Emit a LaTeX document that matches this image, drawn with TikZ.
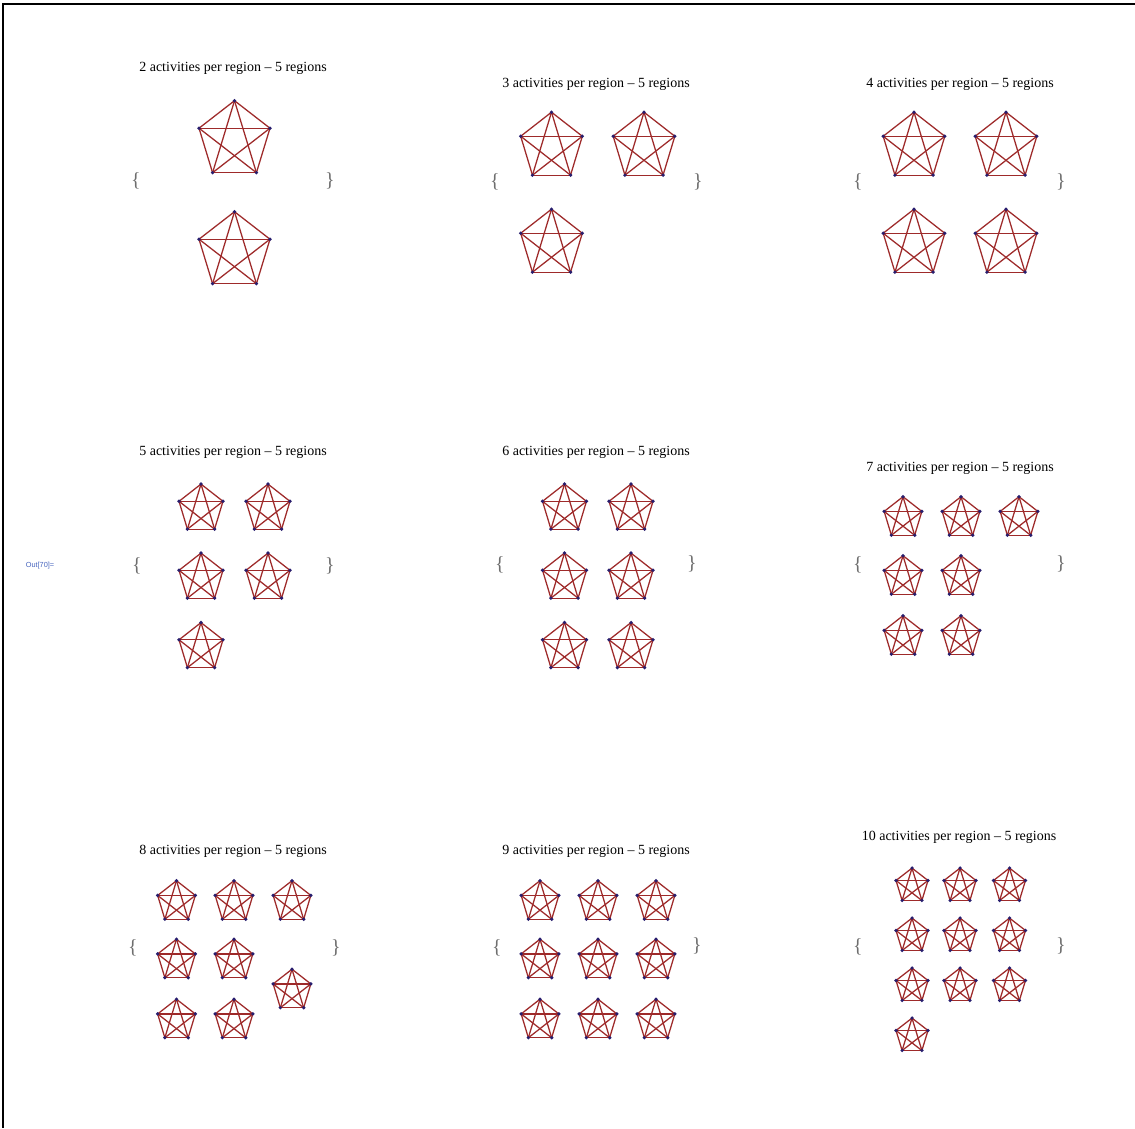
\documentclass[tikz,border=0pt]{standalone}
\usepackage{fontspec}
\setmainfont{Liberation Serif}
\newfontfamily\outfont{Liberation Sans}
\definecolor{edgec}{RGB}{158,42,42}
\definecolor{dotc}{RGB}{40,30,110}
\definecolor{bracec}{RGB}{110,110,110}
\definecolor{outc}{RGB}{70,100,190}
\tikzset{
  edge/.style={draw=edgec, line width=0.95pt},
  ttl/.style={font=\fontsize{10.5}{12}\selectfont, text=black, inner sep=0pt},
  brc/.style={font=\fontsize{15}{16}\selectfont, text=bracec, inner sep=0pt},
  outlbl/.style={font=\outfont\fontsize{5.5}{6}\selectfont, text=outc, inner sep=0pt},
  frame/.style={draw=black, line width=1.6pt}
}
% name, cx, cy, rx, ry
\newcommand\kfive[5]{%
  \foreach \k in {1,...,5}{%
    \coordinate (#1-\k) at ($(#2,#3)+({-90+72*(\k-1)}:#4 and #5)$);
  }%
  \foreach \a/\b in {1/2,1/3,1/4,1/5,2/3,2/4,2/5,3/4,3/5,4/5}{%
    \draw[edge] (#1-\a) -- (#1-\b);
  }%
  \foreach \k in {1,...,5}{%
    \fill[dotc] (#1-\k) circle (1.4pt);
  }%
}
\usetikzlibrary{calc}
\begin{document}
\begin{tikzpicture}[x=0.75pt,y=-0.75pt]
\useasboundingbox (0,0) rectangle (1135,1128);
\fill[white] (0,0) rectangle (1135,1128);
\coordinate (fa) at (3,4);
\coordinate (fb) at (1135,4);
\coordinate (fc) at (3,1128);
\draw[frame] (fb) -- (fa) -- (fc);

\node[outlbl] (out) at (40,566) {Out[70]=};

% ---------- group 1
\node[ttl] (t1) at (233,68) {2 activities per region – 5 regions};
\node[brc] (l1) at (136,181) {\{};
\node[brc] (r1) at (330,181) {\}};
\kfive{g1a}{234.5}{140.5}{37.3}{39.8}
\kfive{g1b}{234.5}{251.5}{37.3}{39.8}

% ---------- group 2
\node[ttl] (t2) at (596,84) {3 activities per region – 5 regions};
\node[brc] (l2) at (495,182) {\{};
\node[brc] (r2) at (698,182) {\}};
\kfive{g2a}{551.5}{147}{32.4}{34.8}
\kfive{g2b}{644}{147}{32.4}{34.8}
\kfive{g2c}{551.5}{244}{32.4}{34.8}

% ---------- group 3
\node[ttl] (t3) at (960,84) {4 activities per region – 5 regions};
\node[brc] (l3) at (858,182) {\{};
\node[brc] (r3) at (1061,182) {\}};
\kfive{g3a}{914}{147}{32.4}{34.8}
\kfive{g3b}{1006}{147}{32.4}{34.8}
\kfive{g3c}{914}{244}{32.4}{34.8}
\kfive{g3d}{1006}{244}{32.4}{34.8}

% ---------- group 4
\node[ttl] (t4) at (233,452) {5 activities per region – 5 regions};
\node[brc] (l4) at (137,566) {\{};
\node[brc] (r4) at (330,566) {\}};
\kfive{g4a}{201}{509}{23.1}{24.9}
\kfive{g4b}{268}{509}{23.1}{24.9}
\kfive{g4c}{201}{578}{23.1}{24.9}
\kfive{g4d}{268}{578}{23.1}{24.9}
\kfive{g4e}{201}{647.5}{23.1}{24.9}

% ---------- group 5
\node[ttl] (t5) at (596,452) {6 activities per region – 5 regions};
\node[brc] (l5) at (500,565) {\{};
\node[brc] (r5) at (692,564) {\}};
\kfive{g5a}{564.5}{509}{23.1}{24.9}
\kfive{g5b}{631}{509}{23.1}{24.9}
\kfive{g5c}{564.5}{578}{23.1}{24.9}
\kfive{g5d}{631}{578}{23.1}{24.9}
\kfive{g5e}{564.5}{647.5}{23.1}{24.9}
\kfive{g5f}{631}{647.5}{23.1}{24.9}

% ---------- group 6
\node[ttl] (t6) at (960,468) {7 activities per region – 5 regions};
\node[brc] (l6) at (858,565) {\{};
\node[brc] (r6) at (1061,564) {\}};
\kfive{g6a}{903}{518}{19.8}{21.3}
\kfive{g6b}{961}{518}{19.8}{21.3}
\kfive{g6c}{1019}{518}{19.8}{21.3}
\kfive{g6d}{903}{577}{19.8}{21.3}
\kfive{g6e}{961}{577}{19.8}{21.3}
\kfive{g6f}{903}{637}{19.8}{21.3}
\kfive{g6g}{961}{637}{19.8}{21.3}

% ---------- group 7
\node[ttl] (t7) at (233,851) {8 activities per region – 5 regions};
\node[brc] (l7) at (133,948) {\{};
\node[brc] (r7) at (336,948) {\}};
\kfive{g7a}{176.5}{902}{19.8}{21.3}
\kfive{g7b}{234}{902}{19.8}{21.3}
\kfive{g7c}{292}{902}{19.8}{21.3}
\kfive{g7d}{176.5}{960.5}{19.8}{21.3}
\kfive{g7e}{234}{960.5}{19.8}{21.3}
\kfive{g7f}{292}{990.5}{19.8}{21.3}
\kfive{g7g}{176.5}{1020.5}{19.8}{21.3}
\kfive{g7h}{234}{1020.5}{19.8}{21.3}

% ---------- group 8
\node[ttl] (t8) at (596,851) {9 activities per region – 5 regions};
\node[brc] (l8) at (497,948) {\{};
\node[brc] (r8) at (697,946) {\}};
\kfive{g8a}{540}{902}{19.8}{21.3}
\kfive{g8b}{598}{902}{19.8}{21.3}
\kfive{g8c}{656}{902}{19.8}{21.3}
\kfive{g8d}{540}{960.5}{19.8}{21.3}
\kfive{g8e}{598}{960.5}{19.8}{21.3}
\kfive{g8f}{656}{960.5}{19.8}{21.3}
\kfive{g8g}{540}{1020.5}{19.8}{21.3}
\kfive{g8h}{598}{1020.5}{19.8}{21.3}
\kfive{g8i}{656}{1020.5}{19.8}{21.3}

% ---------- group 9
\node[ttl] (t9) at (959,837) {10 activities per region – 5 regions};
\node[brc] (l9) at (858,947) {\{};
\node[brc] (r9) at (1061,946) {\}};
\kfive{g9a}{912}{886}{16.8}{17.9}
\kfive{g9b}{960}{886}{16.8}{17.9}
\kfive{g9c}{1009.5}{886}{16.8}{17.9}
\kfive{g9d}{912}{936}{16.8}{17.9}
\kfive{g9e}{960}{936}{16.8}{17.9}
\kfive{g9f}{1009.5}{936}{16.8}{17.9}
\kfive{g9g}{912}{986}{16.8}{17.9}
\kfive{g9h}{960}{986}{16.8}{17.9}
\kfive{g9i}{1009.5}{986}{16.8}{17.9}
\kfive{g9j}{912}{1036}{16.8}{17.9}
\end{tikzpicture}
\end{document}
